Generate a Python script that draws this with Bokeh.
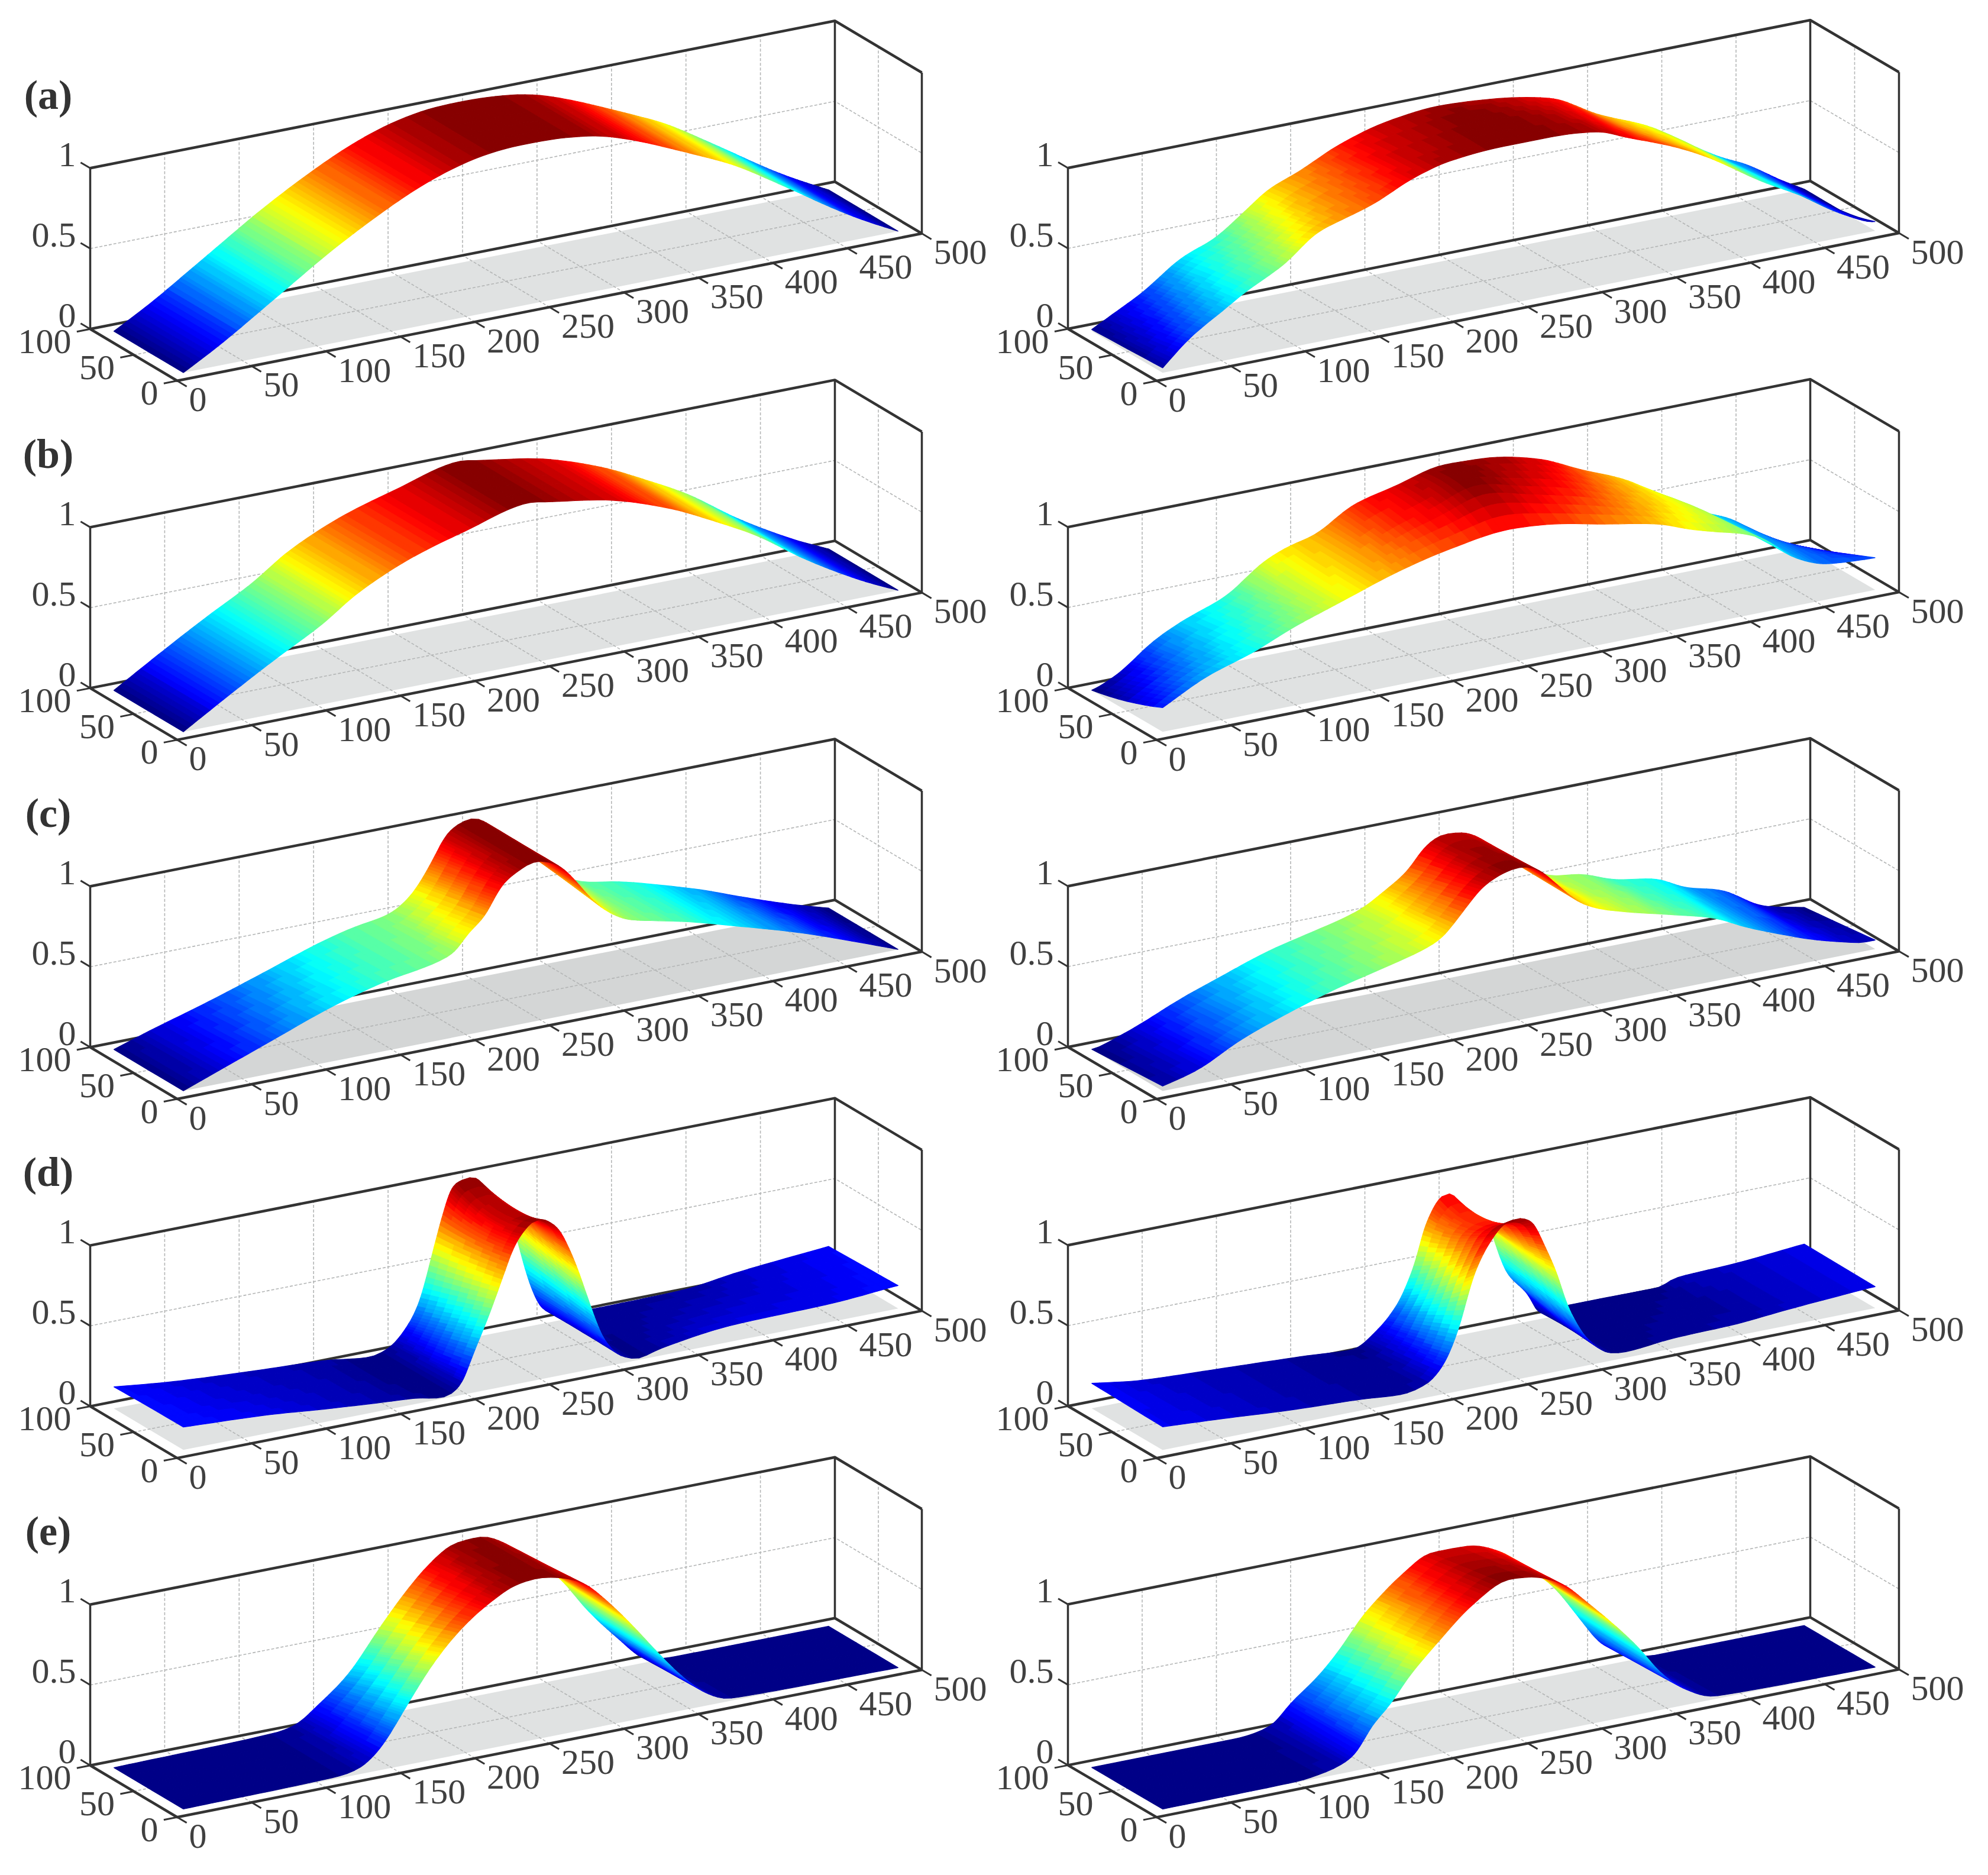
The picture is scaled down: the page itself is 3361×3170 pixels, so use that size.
import numpy as np
from bokeh.plotting import figure
from bokeh.embed import file_html
from bokeh.resources import INLINE
from bokeh.core.properties import value

# ---------- axis values ----------
X_TICKS = [0, 50, 100, 150, 200, 250, 300, 350, 400, 450, 500]
Y_TICKS = [0, 50, 100]
Z_TICKS = [0, 0.5, 1]
Z_LABELS = ["0", "0.5", "1"]
ROW_LABELS = ["(a)", "(b)", "(c)", "(d)", "(e)"]

# ---------- surface profiles (x, z) ----------
# left column (a), (b): same profile on both long edges
AL_X = [10, 35, 60, 85, 103, 125, 145, 165, 188, 210, 230, 250, 285, 310, 336, 360, 379, 400, 422, 445, 464, 490]
AL_Z = [0, .13, .28, .43, .54, .66, .76, .85, .93, .98, 1.0, 1.0, .97, .90, .80, .70, .62, .50, .37, .23, .125, 0]
BL_X = [10, 44, 72, 103, 127, 163, 199, 243, 252, 294, 334, 370, 394, 429, 469, 490]
BL_Z = [0, .19, .34, .497, .647, .80, .90, 1.0, .985, .92, .80, .64, .52, .30, .09, 0]

# left (c)
CL_BX = [10, 32, 72, 112, 151, 171, 195, 209, 223, 235, 251, 266, 282, 294, 308, 322, 350, 374, 406, 429, 469, 490]
CL_BZ = [0, .066, .176, .297, .417, .463, .503, .587, .765, .945, .998, .904, .757, .68, .56, .473, .42, .358, .265, .185, .057, 0]
CL_FX = [10, 65, 113, 145, 181, 193, 200, 212, 224, 236, 246, 260, 272, 284, 296, 308, 324, 344, 383, 423, 463, 490]
CL_FZ = [0, .189, .35, .43, .49, .534, .62, .71, .89, .96, .995, .953, .84, .69, .585, .52, .483, .442, .34, .228, .095, 0]

# left (d)
DL_BX = [10, 52, 112, 151, 183, 195, 207, 215, 223, 231, 238, 251, 262, 274, 281, 288, 298, 312, 332, 390, 429, 490]
DL_BZ = [.135, .093, .058, .04, .005, .04, .15, .28, .54, .805, .975, 1.0, .89, .76, .55, .30, .09, .03, .03, .036, .08, .129]
DL_MX = [10, 65, 105, 145, 185, 196, 204, 215, 224, 232, 240, 250, 260, 272, 282, 292, 304, 316, 332, 390, 443, 489]
DL_MZ = [.14, .095, .07, .045, .006, .05, .17, .365, .62, .82, .92, .94, .89, .745, .475, .19, .05, .02, .03, .07, .10, .136]
DL_FX = [10, 65, 105, 145, 165, 185, 196, 204, 216, 224, 234, 248, 260, 272, 284, 292, 304, 316, 328, 383, 443, 489]
DL_FZ = [.142, .115, .08, .05, .037, .007, .06, .228, .48, .67, .89, 1.0, .935, .71, .377, .178, .046, .009, .039, .103, .113, .143]

# left (e)
EL_BX = [11, 120, 133, 145, 167, 188, 205, 222, 239, 256, 273, 290, 307, 328, 350, 367, 385, 490]
EL_BZ = [0, .018, .044, .123, .287, .535, .723, .878, .975, .985, .912, .77, .654, .396, .17, .022, 0, 0]
EL_FX = [10, 116, 129, 142, 159, 176, 193, 214, 236, 248, 261, 278, 295, 312, 329, 346, 363, 376, 487]
EL_FZ = [0, .013, .04, .133, .355, .577, .749, .896, .99, 1.0, .98, .916, .766, .583, .383, .2, .066, .015, 0]

# right (a)
AR_BX = [10, 24, 44, 72, 92, 111, 131, 147, 179, 211, 243, 271, 319, 351, 386, 410, 434, 450, 474, 490]
AR_BZ = [.01, .078, .176, .35, .42, .54, .67, .725, .86, .94, .97, .955, .88, .72, .58, .435, .30, .23, .086, 0]
AR_MX = [10, 40, 72, 100, 131, 160, 190, 215, 245, 275, 310, 350, 385, 415, 445, 490]
AR_MZ = [.02, .20, .40, .52, .70, .80, .92, .96, 1.0, .98, .92, .75, .61, .43, .26, 0]
AR_FX = [10, 28, 52, 64, 92, 115, 131, 151, 179, 203, 239, 271, 303, 322, 355, 378, 414, 442, 462, 486]
AR_FZ = [.03, .18, .32, .39, .525, .684, .73, .785, .90, .96, .985, .985, .96, .89, .77, .66, .445, .30, .175, .057]

# right (b)
BR_BX = [12, 28, 52, 72, 100, 127, 143, 159, 187, 215, 247, 275, 311, 339, 370, 394, 414, 442, 462, 490]
BR_BZ = [0, .07, .23, .32, .417, .59, .65, .685, .83, .894, .965, .955, .884, .767, .645, .50, .38, .266, .12, 0]
BR_MX = [10, 40, 72, 100, 130, 160, 190, 215, 245, 275, 310, 340, 370, 395, 415, 440, 465, 490]
BR_MZ = [.06, .21, .35, .45, .59, .69, .81, .88, .97, .91, .83, .73, .64, .55, .42, .28, .18, .10]
BR_FX = [10, 40, 72, 96, 131, 167, 203, 243, 267, 307, 347, 362, 382, 402, 416, 434, 458, 486]
BR_FZ = [.15, .29, .386, .48, .59, .70, .78, .83, .815, .745, .67, .616, .56, .51, .448, .309, .22, .20]

# right (c)
CR_BX = [14, 40, 72, 92, 131, 151, 191, 207, 223, 235, 247, 259, 271, 287, 299, 319, 339, 362, 390, 410, 434, 462, 490]
CR_BZ = [0, .086, .21, .275, .396, .44, .536, .62, .72, .85, .90, .89, .837, .69, .63, .51, .483, .408, .36, .27, .21, .06, 0]
CR_FX = [10, 32, 64, 104, 131, 163, 187, 197, 211, 227, 243, 251, 263, 275, 291, 303, 323, 355, 382, 402, 426, 450, 480]
CR_FZ = [.03, .083, .226, .357, .43, .50, .56, .60, .73, .88, .94, .95, .91, .80, .655, .596, .537, .46, .39, .30, .21, .13, .055]

# right (d)
DR_BX = [9, 45, 98, 156, 186, 201, 216, 228, 235, 247, 251, 259, 266, 276, 281, 289, 304, 312, 335, 392, 403, 442, 489]
DR_BZ = [.157, .112, .087, .06, .042, .123, .27, .51, .73, .89, .895, .81, .70, .68, .55, .34, .167, .036, .052, .049, .087, .103, .139]
DR_MX = [10, 50, 100, 150, 185, 200, 215, 228, 236, 250, 258, 268, 278, 288, 300, 315, 335, 392, 440, 489]
DR_MZ = [.15, .115, .085, .065, .06, .15, .40, .66, .80, .85, .83, .72, .58, .33, .16, .04, .045, .06, .10, .136]
DR_FX = [10, 51, 96, 142, 172, 188, 199, 209, 220, 230, 241, 249, 258, 268, 275, 283, 298, 312, 321, 355, 394, 432, 487]
DR_FZ = [.144, .12, .09, .07, .05, .086, .182, .38, .71, .88, .985, 1.0, .967, .78, .624, .39, .145, .048, .037, .063, .072, .10, .133]

# right (e)
ER_BX = [12, 108, 131, 143, 163, 179, 191, 203, 219, 239, 263, 287, 299, 315, 323, 339, 355, 365, 387, 490]
ER_BZ = [0, 0, .037, .144, .29, .446, .59, .696, .814, .915, .911, .826, .73, .61, .53, .318, .123, .077, 0, 0]
ER_FX = [10, 100, 123, 139, 151, 163, 175, 195, 219, 243, 259, 279, 295, 323, 333, 343, 359, 382, 488]
ER_FZ = [0, .005, .035, .097, .26, .366, .509, .693, .888, 1.0, .985, .906, .767, .496, .385, .257, .117, .018, 0]

PANELS = [
    # row, col, (front x, z), (mid x, z) or None, (back x, z), rounding of the mesh
    (0, 0, (AL_X, AL_Z), None, (AL_X, AL_Z), 8),
    (1, 0, (BL_X, BL_Z), None, (BL_X, BL_Z), 3),
    (2, 0, (CL_FX, CL_FZ), None, (CL_BX, CL_BZ), 3.5),
    (3, 0, (DL_FX, DL_FZ), (DL_MX, DL_MZ), (DL_BX, DL_BZ), 2.5),
    (4, 0, (EL_FX, EL_FZ), None, (EL_BX, EL_BZ), 4),
    (0, 1, (AR_FX, AR_FZ), (AR_MX, AR_MZ), (AR_BX, AR_BZ), 4),
    (1, 1, (BR_FX, BR_FZ), (BR_MX, BR_MZ), (BR_BX, BR_BZ), 4),
    (2, 1, (CR_FX, CR_FZ), None, (CR_BX, CR_BZ), 3.5),
    (3, 1, (DR_FX, DR_FZ), (DR_MX, DR_MZ), (DR_BX, DR_BZ), 2),
    (4, 1, (ER_FX, ER_FZ), None, (ER_BX, ER_BZ), 3.5),
]
FLOOR_COLORS = {2: "#d4d6d6"}
FLOOR_DEFAULT = "#e0e2e2"

# ---------- layout of the projection (image pixels) ----------
COL_ORIGIN = [(299.0, 642.3), (1955.0, 642.5)]
ROW_STEP = 607.1
COL_XV = [(1259 / 500, -249 / 500), (1255 / 500, -250 / 500)]
COL_YV = [(-147 / 100, -87.5 / 100), (-150 / 100, -88 / 100)]
ZV = 272.0

W, H = 3345, 3154
p = figure(width=W, height=H, x_range=(0, W), y_range=(H - 1, -1),
           output_backend="svg", toolbar_location=None, min_border=0)
p.axis.visible = False
p.grid.visible = False
p.outline_line_color = None
p.background_fill_color = "white"


def project(row, col, x, y, z):
    ox, oy = COL_ORIGIN[col]
    oy += row * ROW_STEP
    xv, yv = COL_XV[col], COL_YV[col]
    x, y, z = np.asarray(x, float), np.asarray(y, float), np.asarray(z, float)
    return ox + x * xv[0] + y * yv[0], oy + x * xv[1] + y * yv[1] - z * ZV


def smooth(xp, zp, xq):
    xp, zp = np.asarray(xp, float), np.asarray(zp, float)
    h = np.diff(xp)
    d = np.diff(zp) / h
    m = np.zeros_like(xp)
    m[0], m[-1] = d[0], d[-1]
    for i in range(1, len(xp) - 1):
        if d[i - 1] * d[i] > 0:
            w1, w2 = 2 * h[i] + h[i - 1], h[i] + 2 * h[i - 1]
            m[i] = (w1 + w2) / (w1 / d[i - 1] + w2 / d[i])
    xq = np.clip(xq, xp[0], xp[-1])
    k = np.clip(np.searchsorted(xp, xq, side="right") - 1, 0, len(h) - 1)
    t = (xq - xp[k]) / h[k]
    return ((2 * t**3 - 3 * t**2 + 1) * zp[k] + (t**3 - 2 * t**2 + t) * h[k] * m[k]
            + (-2 * t**3 + 3 * t**2) * zp[k + 1] + (t**3 - t**2) * h[k] * m[k + 1])


def rounded(z, sigma):
    n = int(4 * sigma)
    kernel = np.exp(-0.5 * (np.arange(-n, n + 1) / sigma) ** 2)
    kernel /= kernel.sum()
    pad = np.concatenate([2 * z[0] - z[n:0:-1], z, 2 * z[-1] - z[-2:-n - 2:-1]])
    return np.convolve(pad, kernel, mode="valid")


def jet(t):
    t = (np.floor(np.clip(t, 0, 0.9999) * 64) + 0.5) / 64
    r = np.clip(1.5 - abs(4 * t - 3), 0, 1)
    g = np.clip(1.5 - abs(4 * t - 2), 0, 1)
    b = np.clip(1.5 - abs(4 * t - 1), 0, 1)
    return "#%02x%02x%02x" % (int(r * 255), int(g * 255), int(b * 255))


def surface_mesh(front, mid, back, sigma):
    xf = np.arange(10.0, 490.5, 1.0)
    zf, zb = rounded(smooth(*front, xf), sigma), rounded(smooth(*back, xf), sigma)
    zm = rounded(smooth(*mid, xf), sigma) if mid else (zf + zb) / 2
    keep, last = [0], 0
    for i in range(1, len(xf)):
        change = max(abs(zf[i] - zf[last]), abs(zb[i] - zb[last]), abs(zm[i] - zm[last]))
        if change >= 0.012 or xf[i] - xf[last] >= 5:
            keep.append(i)
            last = i
    if keep[-1] != len(xf) - 1:
        keep.append(len(xf) - 1)
    xs = xf[keep]
    ys = np.linspace(10, 90, 9 if mid else 6)
    grid = np.zeros((len(ys), len(xs)))
    for j, y in enumerate(ys):
        s = (y - 50) / 40
        grid[j] = (s * (s - 1) / 2 * zf[keep] + (1 - s * s) * zm[keep] + s * (s + 1) / 2 * zb[keep])
    return xs, ys, np.maximum(grid, 0)


# ---------- frames, grids, floors ----------
box_x, box_y, thin_x, thin_y, tick_x, tick_y, grid_x, grid_y = [], [], [], [], [], [], [], []
floors = {"xs": [], "ys": [], "c": []}
tx_x, tx_y, tx_t = [], [], []
ty_x, ty_y, ty_t = [], [], []
tz_x, tz_y, tz_t = [], [], []


def seg(lx, ly, row, col, pts):
    a = np.array(pts, float)
    sx, sy = project(row, col, a[:, 0], a[:, 1], a[:, 2])
    lx.append(list(sx))
    ly.append(list(sy))


for row in range(5):
    for col in range(2):
        fx, fy = project(row, col, [10, 490, 490, 10], [10, 10, 90, 90], [0, 0, 0, 0])
        floors["xs"].append(list(fx))
        floors["ys"].append(list(fy))
        floors["c"].append(FLOOR_COLORS.get(row, FLOOR_DEFAULT))
        for x in X_TICKS[1:-1]:
            seg(grid_x, grid_y, row, col, [(x, 0, 0), (x, 100, 0), (x, 100, 1)])
        seg(grid_x, grid_y, row, col, [(0, 50, 0), (500, 50, 0), (500, 50, 1)])
        seg(grid_x, grid_y, row, col, [(0, 100, .5), (500, 100, .5), (500, 0, .5)])
        seg(box_x, box_y, row, col, [(0, 100, 0), (0, 0, 0), (500, 0, 0), (500, 100, 0), (0, 100, 0)])
        seg(box_x, box_y, row, col, [(0, 100, 1), (500, 100, 1), (500, 0, 1)])
        seg(thin_x, thin_y, row, col, [(0, 100, 0), (0, 100, 1)])
        seg(thin_x, thin_y, row, col, [(500, 100, 0), (500, 100, 1)])
        seg(thin_x, thin_y, row, col, [(500, 0, 0), (500, 0, 1)])
        for x in X_TICKS:
            seg(tick_x, tick_y, row, col, [(x, 0, 0), (x, -11, 0)])
            a, b = project(row, col, x, 0, 0)
            tx_x.append(float(a) + 20); tx_y.append(float(b) + 32); tx_t.append(str(x))
        for y in Y_TICKS:
            seg(tick_x, tick_y, row, col, [(0, y, 0), (-9, y, 0)])
            a, b = project(row, col, 0, y, 0)
            ty_x.append(float(a) - 32); ty_y.append(float(b) + 21); ty_t.append(str(y))
        for z, lab in zip(Z_TICKS, Z_LABELS):
            seg(tick_x, tick_y, row, col, [(0, 100, z), (0, 111, z)])
            a, b = project(row, col, 0, 100, z)
            tz_x.append(float(a) - 24); tz_y.append(float(b) - 23); tz_t.append(lab)

p.patches(floors["xs"], floors["ys"], fill_color=floors["c"], line_color=None)
p.multi_line(grid_x, grid_y, line_color="#b4b6b6", line_width=1.6, line_dash="5 3")
p.multi_line(thin_x, thin_y, line_color="#333333", line_width=3.5)
p.multi_line(box_x, box_y, line_color="#333333", line_width=4.5)
p.multi_line(tick_x, tick_y, line_color="#333333", line_width=3)

# ---------- surfaces ----------
for row, col, front, mid, back, sigma in PANELS:
    xs, ys, grid = surface_mesh(front, mid, back, sigma)
    zmin, zmax = grid.min(), grid.max()
    quads = []
    for j in range(len(ys) - 1):
        for i in range(len(xs) - 1):
            cx = [xs[i], xs[i + 1], xs[i + 1], xs[i]]
            cy = [ys[j], ys[j], ys[j + 1], ys[j + 1]]
            cz = [grid[j, i], grid[j, i + 1], grid[j + 1, i + 1], grid[j + 1, i]]
            mz = float(np.mean(cz))
            depth = 0.47 * np.mean(cx) + 0.814 * np.mean(cy) - 34.2 * mz
            quads.append((depth, cx, cy, cz, mz))
    quads.sort(key=lambda q: -q[0])
    qx, qy, qc = [], [], []
    for _, cx, cy, cz, mz in quads:
        sx, sy = project(row, col, cx, cy, cz)
        qx.append([round(float(v), 1) for v in sx])
        qy.append([round(float(v), 1) for v in sy])
        qc.append(jet((mz - zmin) / (zmax - zmin)))
    p.patches(qx, qy, fill_color=qc, line_color=qc, line_width=1.2)

# ---------- texts ----------
FONT = value("Liberation Serif")
p.text(tx_x, tx_y, text=tx_t, text_font=FONT, text_font_size="60px", text_color="#404040",
       text_align="left", text_baseline="middle")
p.text(ty_x, ty_y, text=ty_t, text_font=FONT, text_font_size="60px", text_color="#404040",
       text_align="right", text_baseline="middle")
p.text(tz_x, tz_y, text=tz_t, text_font=FONT, text_font_size="60px", text_color="#404040",
       text_align="right", text_baseline="middle")
lab_x = [81] * 5
lab_y = [159 + r * ROW_STEP for r in range(5)]
p.text(lab_x, lab_y, text=ROW_LABELS, text_font=FONT, text_font_size="70px", text_font_style="bold",
       text_color="#333333", text_align="center", text_baseline="middle")

open("out.html", "w").write(file_html(p, INLINE))
